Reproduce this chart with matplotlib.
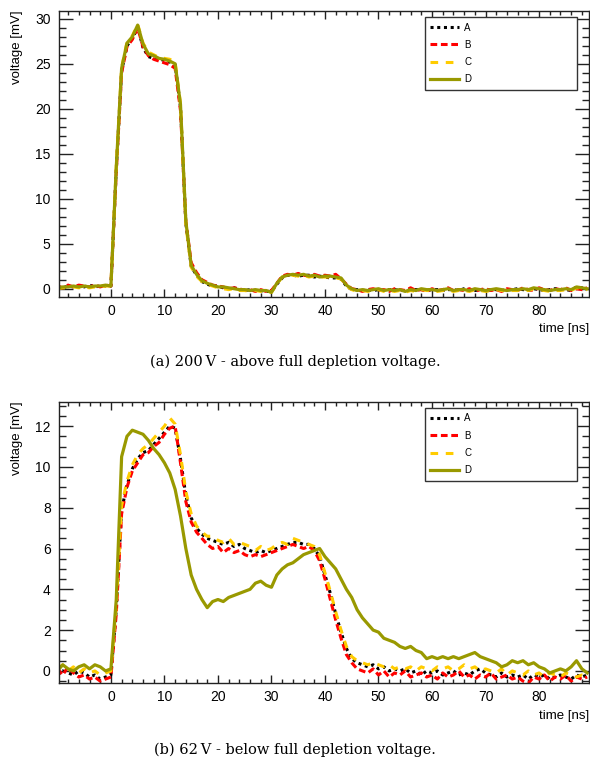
import numpy as np
import matplotlib
matplotlib.use('Agg')
import matplotlib.pyplot as plt
from matplotlib.ticker import MultipleLocator

plt.rcParams['font.family'] = ['Liberation Sans', 'DejaVu Sans']

# time axis [ns], 1 ns steps
t = np.arange(-10, 90)

# (a) 200 V
top_A = [0.2, 0.1, 0.3, 0.2, 0.3, 0.2, 0.4, 0.2, 0.3, 0.3,
         0.3, 13.2, 24.2, 27.0, 27.8, 29.1, 26.8, 25.8, 25.6, 25.5,
         25.4, 25.2, 24.9, 20.2, 7.3, 2.5, 1.5, 0.8, 0.5, 0.3,
         0.3, 0.1, 0.0, 0.1, -0.1, -0.2, -0.1, -0.2, -0.2, -0.3,
         -0.3, 0.5, 1.2, 1.5, 1.5, 1.4, 1.5, 1.5, 1.3, 1.4,
         1.3, 1.2, 1.2, 1.1, 0.3, -0.1, -0.1, -0.2, -0.1, -0.2,
         -0.1, -0.2, -0.1, -0.1, -0.2, -0.2, -0.1, -0.1, -0.1, -0.2,
         -0.1, -0.1, -0.2, -0.1, -0.1, -0.2, 0.0, -0.1, -0.2, -0.1,
         -0.2, -0.1, -0.1, -0.2, -0.1, -0.1, 0.0, -0.1, -0.2, 0.0,
         -0.1, -0.2, -0.1, 0.0, -0.1, -0.1, -0.2, 0.2, 0.1, -0.1]
top_B = [0.3, 0.1, 0.4, 0.2, 0.4, 0.3, 0.2, 0.4, 0.2, 0.4,
         0.3, 13.0, 24.0, 26.9, 27.7, 29.0, 26.9, 25.9, 25.5, 25.3,
         25.1, 24.9, 24.5, 19.8, 7.5, 2.9, 1.8, 1.0, 0.7, 0.4,
         0.3, 0.2, 0.0, 0.1, 0.0, -0.2, -0.1, -0.3, -0.1, -0.3,
         -0.2, 0.6, 1.4, 1.6, 1.5, 1.7, 1.5, 1.4, 1.6, 1.4,
         1.5, 1.4, 1.6, 1.1, 0.5, 0.0, -0.1, -0.3, -0.1, 0.0,
         -0.2, -0.1, -0.3, 0.0, -0.1, -0.2, 0.1, -0.2, -0.1, -0.3,
         0.0, -0.2, -0.1, 0.1, -0.2, -0.1, -0.2, 0.0, -0.3, -0.1,
         0.0, -0.2, -0.1, -0.3, 0.0, -0.1, -0.2, 0.1, -0.1, -0.2,
         0.1, -0.1, -0.2, 0.0, -0.1, 0.1, -0.2, 0.0, -0.1, 0.1]
top_C = [0.0, 0.1, 0.1, 0.2, 0.1, 0.2, 0.1, 0.2, 0.2, 0.3,
         0.3, 13.6, 24.6, 27.4, 28.1, 29.4, 27.3, 26.3, 26.0, 25.7,
         25.6, 25.5, 25.2, 20.6, 7.1, 2.4, 1.4, 0.8, 0.5, 0.3,
         0.1, 0.0, -0.1, 0.0, -0.2, -0.2, -0.3, -0.2, -0.3, -0.2,
         -0.4, 0.5, 1.3, 1.4, 1.5, 1.4, 1.5, 1.3, 1.4, 1.3,
         1.3, 1.3, 1.2, 1.1, 0.3, -0.1, -0.3, -0.2, -0.3, -0.2,
         -0.1, -0.3, -0.2, -0.3, -0.2, -0.4, -0.2, -0.3, -0.1, -0.2,
         -0.2, -0.3, -0.2, -0.1, -0.3, -0.2, -0.2, -0.3, -0.1, -0.2,
         -0.3, -0.2, -0.1, -0.2, -0.3, -0.2, -0.2, -0.1, -0.2, 0.0,
         -0.1, -0.2, -0.3, -0.2, -0.2, -0.1, -0.2, 0.1, 0.0, -0.1]
top_D = [0.1, 0.2, 0.2, 0.3, 0.2, 0.3, 0.2, 0.3, 0.3, 0.4,
         0.3, 13.5, 24.5, 27.3, 28.0, 29.3, 27.2, 26.1, 25.9, 25.6,
         25.5, 25.3, 25.0, 20.5, 7.5, 2.6, 1.6, 0.9, 0.6, 0.4,
         0.2, 0.2, 0.1, 0.0, -0.1, -0.1, -0.2, -0.1, -0.2, -0.2,
         -0.4, 0.6, 1.3, 1.5, 1.6, 1.5, 1.6, 1.4, 1.5, 1.3,
         1.4, 1.4, 1.3, 1.2, 0.4, 0.0, -0.2, -0.1, -0.2, -0.1,
         0.0, -0.2, -0.1, -0.2, -0.1, -0.3, -0.1, -0.2, 0.0, -0.1,
         -0.1, -0.2, -0.1, 0.0, -0.2, -0.1, -0.1, -0.2, 0.0, -0.1,
         -0.2, -0.1, 0.0, -0.1, -0.2, -0.1, -0.1, 0.0, -0.1, 0.1,
         0.0, -0.1, -0.2, -0.1, -0.1, 0.0, -0.1, 0.2, 0.1, 0.0]

# (b) 62 V
bot_A = [-0.2, 0.0, -0.1, -0.2, 0.0, -0.1, -0.3, -0.2, -0.4, -0.3,
         -0.2, 3.0, 7.9, 9.1, 9.9, 10.4, 10.7, 10.8, 11.1, 11.4,
         11.7, 12.0, 11.9, 10.4, 8.6, 7.5, 7.0, 6.7, 6.5, 6.4,
         6.3, 6.2, 6.3, 6.1, 6.2, 6.0, 5.9, 5.8, 5.9, 5.8,
         5.9, 6.0, 6.1, 6.2, 6.3, 6.3, 6.2, 6.2, 6.0, 5.6,
         4.7, 3.8, 2.8, 1.9, 1.1, 0.6, 0.4, 0.3, 0.2, 0.3,
         0.1, 0.2, 0.0, 0.1, 0.0, 0.1, -0.1, 0.0, -0.2, 0.0,
         -0.1, 0.0, -0.2, -0.1, 0.0, -0.2, -0.1, -0.2, 0.0, 0.1,
         -0.1, -0.2, -0.3, -0.1, -0.3, -0.2, -0.3, -0.2, -0.4, -0.2,
         -0.3, -0.2, -0.4, -0.3, -0.2, -0.3, -0.4, -0.2, -0.3, -0.2]
bot_B = [0.1, -0.2, 0.2, -0.1, -0.3, -0.2, -0.4, -0.3, -0.5, -0.4,
         -0.3, 2.8, 7.7, 9.0, 9.8, 10.2, 10.6, 10.7, 11.0, 11.2,
         11.6, 11.9, 12.0, 10.2, 8.3, 7.3, 6.8, 6.5, 6.2, 6.0,
         6.1, 5.8, 6.0, 5.8, 5.9, 5.7, 5.6, 5.7, 5.6, 5.7,
         5.8, 5.9, 6.0, 6.1, 6.2, 6.1, 6.0, 6.1, 5.9, 5.4,
         4.5, 3.5, 2.5, 1.6, 0.8, 0.4, 0.1, 0.0, -0.1, 0.1,
         -0.2, 0.0, -0.3, -0.1, -0.2, 0.0, -0.3, -0.2, -0.1, -0.3,
         -0.2, -0.4, -0.1, -0.3, -0.2, 0.0, -0.3, -0.2, -0.4, -0.2,
         -0.3, -0.1, -0.4, -0.3, -0.2, -0.4, -0.3, -0.5, -0.6, -0.3,
         -0.4, -0.2, -0.5, -0.3, -0.4, -0.2, -0.5, -0.3, -0.4, -0.3]
bot_C = [0.1, 0.3, 0.0, 0.2, -0.1, 0.1, -0.1, 0.0, -0.2, -0.1,
         0.0, 3.2, 8.1, 9.3, 10.1, 10.6, 10.9, 11.1, 11.4, 11.7,
         12.0, 12.4, 12.1, 10.6, 8.8, 7.7, 7.1, 6.8, 6.6, 6.6,
         6.4, 6.3, 6.5, 6.2, 6.3, 6.2, 6.1, 5.9, 6.1, 5.9,
         6.0, 6.2, 6.3, 6.2, 6.5, 6.4, 6.3, 6.2, 6.1, 5.7,
         4.8, 3.9, 2.9, 2.0, 1.2, 0.7, 0.5, 0.4, 0.3, 0.4,
         0.3, 0.2, 0.3, 0.1, 0.2, 0.1, 0.2, 0.0, 0.2, 0.1,
         0.0, 0.2, 0.1, 0.2, 0.0, 0.1, 0.3, 0.1, 0.2, 0.0,
         0.1, 0.0, -0.1, 0.1, -0.2, 0.0, -0.1, -0.2, 0.0, -0.2,
         -0.1, -0.3, -0.1, -0.2, -0.3, -0.1, -0.2, -0.3, -0.2, -0.3]
bot_D = [0.0, 0.3, 0.1, 0.0, 0.2, 0.3, 0.1, 0.3, 0.2, 0.0,
         0.1, 3.5, 10.5, 11.5, 11.8, 11.7, 11.6, 11.3, 10.9, 10.6,
         10.2, 9.7, 8.9, 7.6, 6.0, 4.7, 4.0, 3.5, 3.1, 3.4,
         3.5, 3.4, 3.6, 3.7, 3.8, 3.9, 4.0, 4.3, 4.4, 4.2,
         4.1, 4.7, 5.0, 5.2, 5.3, 5.5, 5.7, 5.8, 5.9, 6.0,
         5.6, 5.3, 5.0, 4.5, 4.0, 3.6, 3.0, 2.6, 2.3, 2.0,
         1.9, 1.6, 1.5, 1.4, 1.2, 1.1, 1.2, 1.0, 0.9, 0.6,
         0.7, 0.6, 0.7, 0.6, 0.7, 0.6, 0.7, 0.8, 0.9, 0.7,
         0.6, 0.5, 0.4, 0.2, 0.3, 0.5, 0.4, 0.5, 0.3, 0.4,
         0.2, 0.1, -0.1, 0.0, 0.1, 0.0, 0.2, 0.5, 0.1, -0.1]

labels = ['A', 'B', 'C', 'D']
colors = ['black', '#ff0000', '#ffcc00', '#999900']
styles = [(0, (1, 1.2)), (0, (2.2, 1.2)), (0, (2.5, 2.5)), '-']
widths = [2.2, 2.2, 2.2, 2.3]

fig = plt.figure(figsize=(5.9, 7.65), dpi=100)
ax1 = fig.add_axes([0.100, 0.612, 0.898, 0.374])
ax2 = fig.add_axes([0.100, 0.107, 0.898, 0.368])


def style_axis(ax, ylim, ymajor, yminor):
    ax.set_xlim(-9.7, 89.3)
    ax.set_ylim(*ylim)
    ax.xaxis.set_major_locator(MultipleLocator(10))
    ax.xaxis.set_minor_locator(MultipleLocator(2))
    ax.yaxis.set_major_locator(MultipleLocator(ymajor))
    ax.yaxis.set_minor_locator(MultipleLocator(yminor))
    ax.tick_params(which='both', direction='in', top=True, right=True,
                   labelsize=10, width=1, color='#222222')
    ax.tick_params(axis='x', which='major', length=6, pad=5)
    ax.tick_params(axis='x', which='minor', length=3)
    ax.tick_params(axis='y', which='major', length=10, pad=6)
    ax.tick_params(axis='y', which='minor', length=5)
    for sp in ax.spines.values():
        sp.set_linewidth(1.0)
        sp.set_color('#222222')
    ax.set_xlabel('time [ns]', loc='right', fontsize=9.5, labelpad=4)
    ax.set_ylabel('voltage [mV]', loc='top', fontsize=9.5, labelpad=9)
    leg = ax.legend(loc='upper left', bbox_to_anchor=(0.69, 0.727, 0.287, 0.252),
                    mode='expand', fontsize=7, frameon=True, fancybox=False,
                    edgecolor='#333333', framealpha=1, handlelength=2.9,
                    handletextpad=0.6, labelspacing=0.75, borderpad=0.6,
                    borderaxespad=0)
    leg.get_frame().set_linewidth(1.0)


for ax, series in [(ax1, [top_A, top_B, top_C, top_D]),
                   (ax2, [bot_A, bot_B, bot_C, bot_D])]:
    for y, lab, c, ls, lw in zip(series, labels, colors, styles, widths):
        ax.plot(t, y, color=c, linestyle=ls, linewidth=lw, label=lab)

style_axis(ax1, (-0.9, 30.9), 5, 1)
style_axis(ax2, (-0.6, 13.2), 2, 0.5)

fig.text(0.5, 0.527, '(a) 200\u2009V - above full depletion voltage.',
         ha='center', va='center', family='DejaVu Serif', fontsize=10.5)
fig.text(0.5, 0.020, '(b) 62\u2009V - below full depletion voltage.',
         ha='center', va='center', family='DejaVu Serif', fontsize=10.5)

fig.savefig('out.png', dpi=100)
